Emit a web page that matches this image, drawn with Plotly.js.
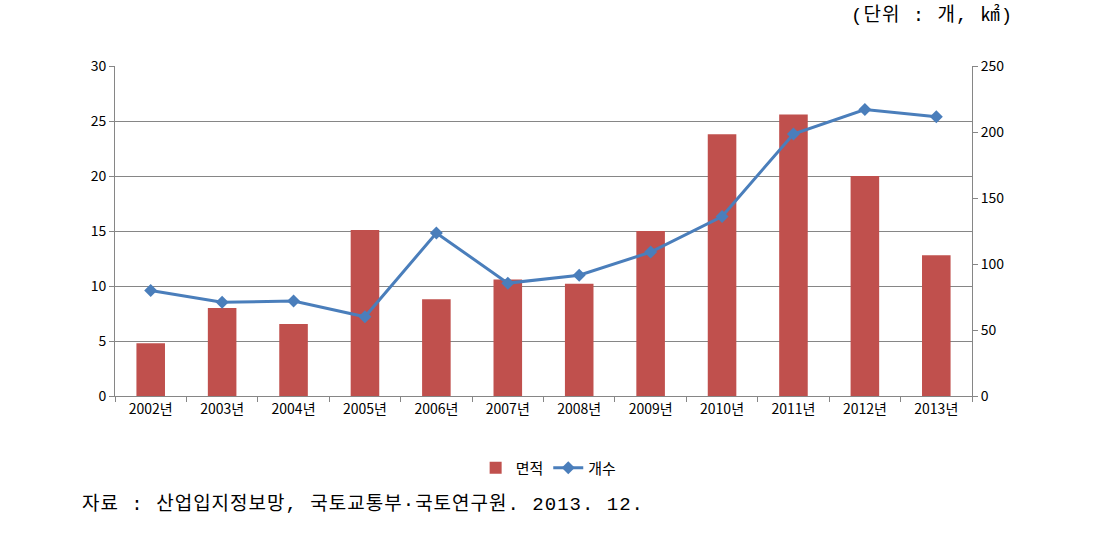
<!DOCTYPE html>
<html>
<head>
<meta charset="utf-8">
<script src="https://cdn.plot.ly/plotly-3.0.1.min.js"></script>
<style>html,body{margin:0;padding:0;background:#fff;}#chart{width:1106px;height:547px;}
.annotation-text{letter-spacing:1px;}</style>
</head>
<body>
<div id="chart"></div>
<script>
const years = ["2002년","2003년","2004년","2005년","2006년","2007년","2008년","2009년","2010년","2011년","2012년","2013년"];
const area = [4.8, 8.0, 6.55, 15.1, 8.8, 10.6, 10.2, 15.0, 23.8, 25.6, 20.0, 12.8];
const count = [80, 71, 72, 60, 123.5, 85.5, 91.5, 109, 136, 198.5, 217, 211.5];
const areaName = "면적";
const countName = "개수";
const unitText = "(단위 : 개, ㎢)";
const sourceText = "자료 : 산업입지정보망, 국토교통부·국토연구원. 2013. 12.";

const sans = "Noto Sans CJK KR, sans-serif";
const noteFont = "Liberation Mono, Noto Sans CJK KR, monospace";

const data = [
  {type:"bar", x:years, y:area, name:areaName, marker:{color:"#c0504d"}, yaxis:"y"},
  {type:"scatter", mode:"lines+markers", x:years, y:count, name:countName, yaxis:"y2",
   line:{color:"#4a7ebb", width:3}, marker:{symbol:"diamond", size:10, color:"#4a7ebb"}}
];

const layout = {
  width:1106, height:547,
  margin:{l:115, r:134, t:66, b:151},
  paper_bgcolor:"#fff", plot_bgcolor:"#fff",
  bargap:0.6,
  showlegend:true,
  legend:{orientation:"h", x:0.506, xanchor:"center", y:-0.218, yanchor:"middle",
          font:{family:sans, size:15, color:"#000"}, traceorder:"normal"},
  xaxis:{type:"category", range:[-0.5, 11.5], tickson:"boundaries", ticks:"outside", ticklen:5, tickcolor:"#868686",
         showline:true, linecolor:"#868686", linewidth:1, showgrid:false,
         tickfont:{family:sans, size:14, color:"#000"}},
  yaxis:{range:[0,30], dtick:5, ticks:"outside", ticklen:5, tickcolor:"#868686",
         showline:true, linecolor:"#868686", showgrid:true, gridcolor:"#868686", gridwidth:1,
         zeroline:false, tickfont:{family:sans, size:14, color:"#000"}},
  yaxis2:{range:[0,250], dtick:50, overlaying:"y", side:"right", ticks:"outside", ticklen:5,
          tickcolor:"#868686", showline:true, linecolor:"#868686", showgrid:false, zeroline:false,
          tickfont:{family:sans, size:14, color:"#000"}},
  annotations:[
    {text:unitText, xref:"paper", yref:"paper", x:1.050, y:1.1545, xanchor:"right", yanchor:"middle",
     showarrow:false, font:{family:noteFont, size:19, color:"#000"}},
    {text:sourceText, xref:"paper", yref:"paper", x:-0.041, y:-0.330, xanchor:"left", yanchor:"middle",
     showarrow:false, font:{family:noteFont, size:19, color:"#000"}}
  ]
};

Plotly.newPlot("chart", data, layout, {displayModeBar:false, staticPlot:true});
</script>
</body>
</html>
